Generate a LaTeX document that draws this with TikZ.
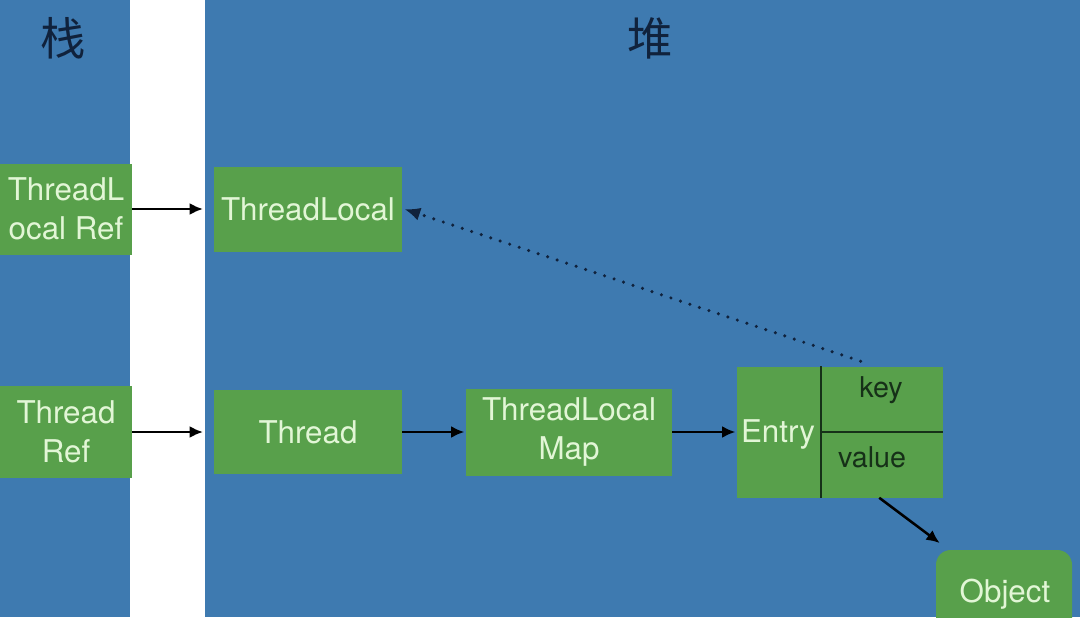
\documentclass[tikz,border=0pt]{standalone}
\usepackage{fontspec}
\setmainfont{TeX Gyre Heros}
\newfontfamily\cjk{Noto Sans CJK SC}
\usetikzlibrary{arrows.meta,calc}
\definecolor{bgblue}{RGB}{62,122,176}
\definecolor{boxgreen}{RGB}{88,160,75}
\definecolor{lighttext}{RGB}{226,246,214}
\definecolor{darktext}{RGB}{22,48,24}
\definecolor{navy}{RGB}{16,34,60}
\begin{document}
\begin{tikzpicture}[x=0.75pt,y=-0.75pt,
  box/.style={rectangle,fill=boxgreen,draw=none,inner sep=0pt,text=lighttext,align=center,
    font=\fontsize{23.5pt}{29pt}\selectfont},
  conn/.style={draw=black,line width=1.9pt,-{Latex[length=10pt,width=9pt]}},
  dotconn/.style={draw=navy,line width=2.6pt,line cap=round,dash pattern=on 0pt off 7.5pt,-{Latex[length=12pt,width=10pt]}},
  title/.style={text=navy,font=\cjk\fontsize{34pt}{36pt}\selectfont},
  celltext/.style={text=darktext,font=\fontsize{21.5pt}{26pt}\selectfont}]
\useasboundingbox (0,0) rectangle (1080,617);
\fill[white] (0,0) rectangle (1080,617);
\fill[bgblue] (0,0) rectangle (130,617);
\fill[bgblue] (205,0) rectangle (1080,617);
\node[title] (stack) at (63,38) {栈};
\node[title] (heap) at (650,38) {堆};
\node[box,minimum width=99pt,minimum height=68.25pt] (tlref) at (66,209) {ThreadL\\ocal Ref};
\node[box,minimum width=141pt,minimum height=63.75pt] (tl) at (308,209) {ThreadLocal};
\node[box,minimum width=99pt,minimum height=69pt] (tref) at (66,432) {Thread\\Ref};
\node[box,minimum width=141pt,minimum height=63pt] (thread) at (308,432) {Thread};
\node[box,minimum width=154.5pt,minimum height=65.25pt] (map) at (569,432) {ThreadLocal\\Map};
\node[box,minimum width=154.5pt,minimum height=98.25pt] (entry) at (840,432) {};
\begin{scope}
\clip (0,0) rectangle (1080,617);
\node[box,minimum width=102pt,minimum height=75pt,rounded corners=11pt] (object) at (1004,600) {};
\end{scope}
\node[text=lighttext,font=\fontsize{23.5pt}{29pt}\selectfont] (objtext) at (1005,594) {Object};
\coordinate (vtop) at ($(entry.north west)!0.408!(entry.north east)$);
\coordinate (vbot) at ($(entry.south west)!0.408!(entry.south east)$);
\coordinate (hmid) at (vtop|-entry.center);
\draw[darktext,line width=2pt] (vtop) -- (vbot);
\draw[darktext,line width=2pt] (hmid) -- (entry.east);
\node[text=lighttext,font=\fontsize{23.5pt}{29pt}\selectfont] (entrytext) at (778,434) {Entry};
\node[celltext] (key) at (881,390) {key};
\node[celltext] (value) at (872,457) {value};
\coordinate (dotstart) at ($(entry.north west)!0.6!(entry.north east)+(0,-5)$);
\coordinate (valstart) at ($(entry.south west)!0.69!(entry.south east)$);
\coordinate (gapR1) at (203,209);
\coordinate (gapR2) at (203,432);
\draw[conn] (tlref.east) -- (gapR1);
\draw[conn] (tref.east) -- (gapR2);
\draw[conn] (thread.east) -- ([xshift=-1pt]map.west);
\draw[conn] (map.east) -- ([xshift=-1pt]entry.west);
\draw[conn] (valstart) -- ([shift={(3pt,5pt)}]object.north west);
\draw[dotconn] (dotstart) -- ([xshift=1.5pt]tl.east);
\end{tikzpicture}
\end{document}
